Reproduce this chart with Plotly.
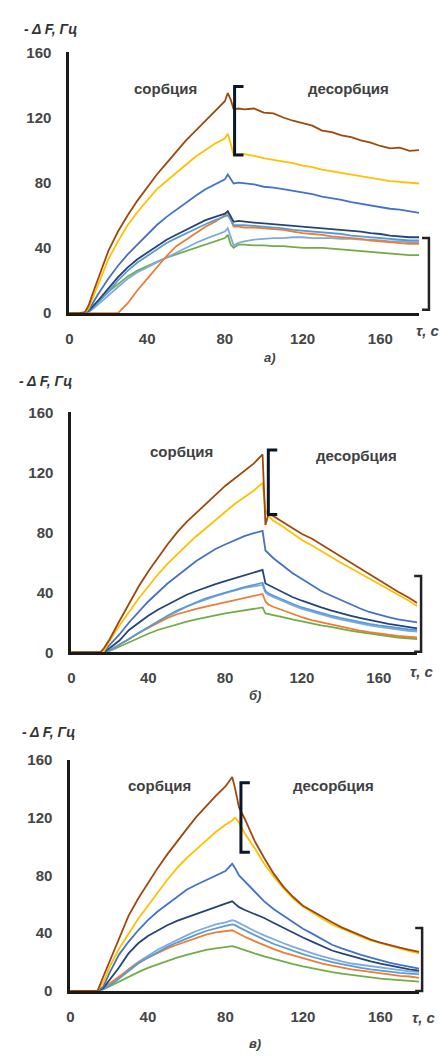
import plotly.graph_objects as go

W, H = 443, 1058

# ---------------- data: panel а) ----------------
t_a = [0, 5, 8, 10, 12, 15, 20, 25, 30, 35, 40, 45, 50, 55, 60, 65, 70, 75, 80, 81.5, 83, 84.5,
       87, 90, 95, 100, 105, 110, 115, 120, 125, 130, 135, 140, 145, 150, 155, 160, 165, 170, 175, 180]
a_brown = [0, 0, 0.5, 5, 12, 22, 38, 50, 60, 69, 77, 85, 92, 99, 106, 112, 118, 124, 130, 135, 131, 125,
           125.5, 125, 125.5, 123, 122.5, 120, 118, 116.5, 115, 112, 111, 109, 108, 106, 104.5, 102.5, 101, 101.5, 99.5, 100]
a_gold = [0, 0, 0, 3, 9, 18, 33, 44, 54, 62, 69, 76, 81, 86, 91, 96, 100, 104, 107, 110, 104, 97,
          97.5, 97.5, 96.5, 95, 94, 93, 92, 90.5, 89.5, 88, 87, 86, 85, 84, 83, 82, 81, 80.5, 80, 79.5]
a_blue = [0, 0, 0, 2, 6, 12, 21, 29, 36, 42, 48, 54, 59, 63.5, 68, 72, 76, 79, 82, 85, 82, 79.5,
          80, 79.5, 79, 77.5, 77, 76, 75, 74, 73, 71.5, 70.5, 69.5, 68, 67, 66, 65, 64, 63.5, 62.5, 61.5]
a_navy = [0, 0, 0, 1.5, 4, 8, 15, 22, 28, 33, 37, 41, 45, 48, 51, 54, 57, 59, 61, 62.5, 59, 56,
          56.5, 56, 55.5, 55, 54.5, 54, 53.5, 53, 52.5, 52, 51.5, 51, 50.5, 50, 49, 48.5, 47.5, 47, 46.5, 46.5]
a_cyan = [0, 0, 0, 1, 3, 7, 13, 20, 26, 31, 35, 39, 43, 46, 49, 52, 54.5, 57, 59, 60, 57, 54,
          54, 54, 53.5, 53, 52.5, 52, 51, 50.5, 50, 49.5, 49, 48.5, 47.5, 47, 46.5, 46, 45.5, 45, 44.5, 44.5]
a_orange = [0, 0, 0, 0, 0, 0, 0, 0, 6, 14, 21, 28, 35, 41, 45, 49, 53, 56, 60, 62, 57, 53,
            53, 52.5, 52.5, 52, 51.5, 51, 50, 49, 48.5, 48, 47, 46.5, 46, 45.5, 44.5, 44, 43.5, 43, 42.5, 42.5]
a_lblue = [0, 0, 0, 1, 2.5, 5.5, 11, 16, 21, 25, 28, 31, 34, 37, 40, 43, 45.5, 48, 50, 52, 46, 41.5,
           43, 44, 45, 45.5, 46, 46, 46.5, 46.5, 46, 46, 46, 45.5, 45.5, 45, 45, 44.5, 44, 44, 43.5, 43.5]
a_green = [0, 0, 0, 1.5, 3.5, 7, 13, 18, 22.5, 26, 29, 31.5, 34, 36, 38, 40, 42, 44, 46, 48, 42, 40,
           42, 42, 41.5, 41.5, 41, 41, 40.5, 40, 40, 40, 39.5, 39, 38.5, 38, 37.5, 37, 36.5, 36, 35.5, 35.5]

# ---------------- data: panel б) ----------------
t_b = [0, 5, 10, 15, 17, 20, 25, 30, 35, 40, 45, 50, 55, 60, 65, 70, 75, 80, 85, 90, 95, 99.5, 101,
       102.5, 105, 110, 115, 120, 125, 130, 135, 140, 145, 150, 155, 160, 165, 170, 175, 180]
b_brown = [0, 0, 0, 0, 3, 9, 21, 33, 44, 54, 63, 72, 80, 87, 93, 99, 105, 111, 116, 121, 126, 132, 85,
           92, 91, 87, 83, 79, 76, 72, 68, 64, 60, 56, 52.5, 48, 44.5, 40.5, 37, 33]
b_gold = [0, 0, 0, 0, 1, 8, 18, 27, 36, 44, 52, 59, 65.5, 71.5, 77.5, 83, 88.5, 94, 99, 103.5, 108, 113, 95,
          91, 88, 84, 79.5, 75, 71.5, 67.5, 64, 60, 56.5, 53, 49.5, 46, 42, 38.5, 35, 31]
b_blue = [0, 0, 0, 0, 1, 5, 12, 20, 27, 34, 40, 46, 51, 56, 61, 65, 69, 72, 75, 77.5, 79.5, 81, 68,
          66, 63, 58, 53, 49, 45, 41, 38, 35, 32, 29.5, 27, 25, 23.5, 22, 21, 20]
b_navy = [0, 0, 0, 0, 0.5, 3, 8, 15, 20, 24.5, 28.5, 32, 35.5, 38.5, 41, 43.5, 45.5, 47.5, 49.5, 51.5, 53, 55, 46,
          45, 43.5, 40, 37, 34.5, 32, 30, 28, 26, 24.5, 23, 21.5, 20, 19, 18, 17, 16]
b_cyan = [0, 0, 0, 0, 0, 1.5, 5, 9, 13, 17, 21, 24.5, 28, 31, 33.5, 36, 38, 40, 42, 43.5, 45, 46.5, 41,
          39.5, 38, 35, 32.5, 30, 28, 26, 24.5, 23, 21.5, 20, 19, 18, 17, 16, 15.5, 15]
b_orange = [0, 0, 0, 0, 0, 1.5, 5, 9, 13, 16.5, 20, 23, 25.5, 27.5, 29, 30.5, 32, 33.5, 35, 36, 37.5, 39, 34,
            32, 30.5, 28, 25.5, 23.5, 21.5, 20, 18.5, 17, 15.5, 14.5, 13.5, 12.5, 11.5, 11, 10.5, 10]
b_lblue = [0, 0, 0, 0, 0, 1.5, 5, 9, 13, 17, 20.5, 24, 27.5, 30.5, 33, 35.5, 37.5, 39.5, 41.5, 43, 44, 45, 40,
           38.5, 37, 34, 31.5, 29, 27, 25, 23.5, 22, 20.5, 19, 18, 17, 16, 15, 14.5, 14]
b_green = [0, 0, 0, 0, 0, 1, 4, 7, 10, 12.5, 15, 17, 19, 20.5, 22, 23.5, 25, 26, 27, 28, 29, 30, 26,
           25.5, 25, 23.5, 22, 20.5, 19, 18, 17, 15.5, 14.5, 13.5, 12.5, 11.5, 11, 10, 9.5, 9]

# ---------------- data: panel в) ----------------
t_c = [0, 5, 10, 14, 17, 20, 25, 30, 35, 40, 45, 50, 55, 60, 65, 70, 75, 80, 83.5, 85, 87, 90, 95,
       100, 105, 110, 115, 120, 125, 130, 135, 140, 145, 150, 155, 160, 165, 170, 175, 180]
c_brown = [0, 0, 0, 0, 10, 20, 36, 52, 64, 75, 85, 94.5, 103.5, 112, 120.5, 128, 135, 141.5, 148, 140, 127, 119, 104,
           92, 81, 72, 65, 59, 55, 51, 47.5, 44, 41, 38, 35.5, 33.5, 31.5, 30, 28.5, 27]
c_gold = [0, 0, 0, 0, 6, 16, 29, 40, 50, 59, 68, 77, 85, 92, 98, 104, 110, 115, 118, 120, 116.5, 109, 99,
          88, 79, 71, 64, 58.5, 54, 50, 46, 43, 40, 37.5, 35, 33, 31, 29, 27.5, 26]
c_blue = [0, 0, 0, 0, 3, 12, 25, 34, 42, 49, 55, 60, 65.5, 70, 73.5, 76.5, 79.5, 83, 88, 85, 80, 76, 69,
          62, 56.5, 52, 47, 43, 39.5, 35.5, 32, 29.5, 27, 25, 23, 21, 19.5, 18, 16.5, 15.5]
c_navy = [0, 0, 0, 0, 2, 7, 16, 26, 33, 38, 42, 45.5, 48.5, 51, 53.5, 56, 58.5, 60.5, 62, 60.5, 58, 56, 53.5,
          50.5, 47, 43.5, 40, 37, 34, 31, 28, 26, 24, 22, 20.5, 19, 17.5, 16, 15, 14]
c_cyan = [0, 0, 0, 0, 1.5, 3.5, 8.5, 14, 19, 23, 27, 30.5, 33.5, 36.5, 39, 41.5, 43.5, 45, 46, 45.5, 44, 42, 38.5,
          35.5, 32.5, 30, 27.5, 25.5, 23.5, 21.5, 20, 18.5, 17, 16, 15, 14, 13, 12.5, 12, 11.5]
c_orange = [0, 0, 0, 0, 2, 5, 10, 15, 19.5, 23, 26.5, 29.5, 32, 34.5, 37, 39, 40.5, 41.5, 42, 41, 39.5, 37.5, 34.5,
            31.5, 29, 26.5, 24.5, 22.5, 20.5, 19, 17.5, 16, 15, 14, 13, 12, 11, 10.5, 10, 9]
c_lblue = [0, 0, 0, 0, 1.5, 4, 9, 15, 20, 24.5, 28.5, 32, 35.5, 38.5, 41.5, 44, 46, 47.5, 49, 48.5, 47, 45, 41.5,
           38.5, 35.5, 33, 30.5, 28, 26, 24, 22, 20.5, 19, 18, 17, 16, 15, 14, 13.5, 13]
c_green = [0, 0, 0, 0, 1, 3, 6.5, 10, 13, 16, 18.5, 21, 23, 25, 27, 28.5, 29.5, 30.5, 31, 30.5, 29.5, 28, 26,
           24, 22, 20, 18.5, 17, 15.5, 14, 13, 12, 11, 10, 9.5, 8.5, 8, 7.5, 7, 6.5]

series_names = ["green", "lblue", "orange", "cyan", "navy", "blue", "gold", "brown"]
series_colors = {"brown": "#9E480E", "gold": "#FFC000", "blue": "#4472C4", "navy": "#264478",
                 "cyan": "#5B9BD5", "orange": "#ED7D31", "lblue": "#7DAAE0", "green": "#70AD47"}

panel_data = [
    (t_a, {"brown": a_brown, "gold": a_gold, "blue": a_blue, "navy": a_navy, "cyan": a_cyan,
           "orange": a_orange, "lblue": a_lblue, "green": a_green}),
    (t_b, {"brown": b_brown, "gold": b_gold, "blue": b_blue, "navy": b_navy, "cyan": b_cyan,
           "orange": b_orange, "lblue": b_lblue, "green": b_green}),
    (t_c, {"brown": c_brown, "gold": c_gold, "blue": c_blue, "navy": c_navy, "cyan": c_cyan,
           "orange": c_orange, "lblue": c_lblue, "green": c_green}),
]

x_ticks = [0, 40, 80, 120, 160]
y_ticks = [0, 40, 80, 120, 160]
X_RANGE = [0, 180]
Y_RANGE = [0, 160]

panel_labels = ["а)", "б)", "в)"]
# bracket positions in data units: (x, y_low, y_high)
left_brackets = [(85, 97, 139), (102.5, 92, 135), (88, 96, 144)]
right_brackets = [(185, 2, 46), (182, 0.5, 51), (181.5, 0, 43.5)]
sorb_pos = [(49.5, 138), (57.5, 134), (46, 142)]
desorb_pos = [(143.5, 138), (148.5, 131), (136, 142)]

# ---------------- layout geometry (pixels) ----------------
px_x = [(66, 419), (68, 417), (67, 419)]
px_y = [(309, 44), (654, 410), (998, 763)]

fig = go.Figure()
font_fam = "Liberation Sans, Arial, sans-serif"

def to_paper(i, x, y):
    x0, x1 = px_x[i][0] / W, px_x[i][1] / W
    y0, y1 = 1 - px_y[i][0] / H, 1 - px_y[i][1] / H
    return (x0 + (x - X_RANGE[0]) / (X_RANGE[1] - X_RANGE[0]) * (x1 - x0),
            y0 + (y - Y_RANGE[0]) / (Y_RANGE[1] - Y_RANGE[0]) * (y1 - y0))

shapes = []
annotations = []
for i, (tt, ser) in enumerate(panel_data):
    xa = "x" if i == 0 else f"x{i+1}"
    ya = "y" if i == 0 else f"y{i+1}"
    for name in series_names:
        fig.add_trace(go.Scatter(x=tt, y=ser[name], mode="lines", xaxis=xa, yaxis=ya,
                                 line=dict(color=series_colors[name], width=1.8),
                                 showlegend=False, hoverinfo="skip"))
    axx = dict(domain=[px_x[i][0] / W, px_x[i][1] / W], range=X_RANGE, tickvals=x_ticks,
               ticktext=[f"<b>{v}</b>" for v in x_ticks],
               showgrid=False, zeroline=False, showline=True, linecolor="#1a1a1a", linewidth=3,
               ticks="", ticklabelstandoff=10, anchor=ya,
               tickfont=dict(family=font_fam, size=15, color="#454545"))
    axy = dict(domain=[1 - px_y[i][0] / H, 1 - px_y[i][1] / H], range=Y_RANGE, tickvals=y_ticks,
               ticktext=[f"<b>{v}</b>" for v in y_ticks],
               showgrid=False, zeroline=False, showline=True, linecolor="#1a1a1a", linewidth=3,
               ticks="", ticklabelstandoff=12, anchor=xa,
               tickfont=dict(family=font_fam, size=15, color="#454545"))
    fig.update_layout({("xaxis" if i == 0 else f"xaxis{i+1}"): axx,
                       ("yaxis" if i == 0 else f"yaxis{i+1}"): axy})

    # left bracket "["
    bx, bl, bh = left_brackets[i]
    p0 = to_paper(i, bx, bl)
    p1 = to_paper(i, bx, bh)
    dx = 9 / W
    shapes.append(dict(type="path", xref="paper", yref="paper",
                       path=f"M {p0[0]+dx},{p1[1]} L {p0[0]},{p1[1]} L {p0[0]},{p0[1]} L {p0[0]+dx},{p0[1]}",
                       line=dict(color="#0b1726", width=3)))
    # right bracket "]"
    rx, rl, rh = right_brackets[i]
    q0 = to_paper(i, rx, rl)
    q1 = to_paper(i, rx, rh)
    dx2 = 7 / W
    shapes.append(dict(type="path", xref="paper", yref="paper",
                       path=f"M {q0[0]-dx2},{q1[1]} L {q0[0]},{q1[1]} L {q0[0]},{q0[1]} L {q0[0]-dx2},{q0[1]}",
                       line=dict(color="#222222", width=2.5)))

    annotations.append(dict(x=sorb_pos[i][0], y=sorb_pos[i][1], xref=xa, yref=ya, text="<b>сорбция</b>",
                            showarrow=False, font=dict(family=font_fam, size=15, color="#404040")))
    annotations.append(dict(x=desorb_pos[i][0], y=desorb_pos[i][1], xref=xa, yref=ya, text="<b>десорбция</b>",
                            showarrow=False, font=dict(family=font_fam, size=15, color="#404040")))

# axis titles and panel letters (pixel-derived positions)
ylab_px = [(18, 20), (13, 378), (16, 735)]
tau_px = [(427, 327), (421, 673), (423, 1025)]
letter_px = [(268, 354), (253, 698), (253, 1051)]
for i in range(3):
    annotations.append(dict(x=ylab_px[i][0] / W, y=1 - ylab_px[i][1] / H, xref="paper", yref="paper",
                            xanchor="left", yanchor="middle", showarrow=False,
                            text="<b><i>- Δ F, Гц</i></b>",
                            font=dict(family=font_fam, size=14, color="#333333")))
    annotations.append(dict(x=tau_px[i][0] / W, y=1 - tau_px[i][1] / H, xref="paper", yref="paper",
                            xanchor="center", yanchor="middle", showarrow=False,
                            text="<b><i>τ, с</i></b>",
                            font=dict(family=font_fam, size=15, color="#454545")))
    annotations.append(dict(x=letter_px[i][0] / W, y=1 - letter_px[i][1] / H, xref="paper", yref="paper",
                            xanchor="center", yanchor="middle", showarrow=False,
                            text="<b><i>" + panel_labels[i] + "</i></b>",
                            font=dict(family=font_fam, size=13, color="#454545")))

fig.update_layout(width=W, height=H, margin=dict(l=0, r=0, t=0, b=0),
                  paper_bgcolor="white", plot_bgcolor="white",
                  shapes=shapes, annotations=annotations, showlegend=False)

fig.write_html("out.html", config={"displayModeBar": False},
               post_script="document.body.style.margin='0px';document.body.style.overflow='hidden';")
